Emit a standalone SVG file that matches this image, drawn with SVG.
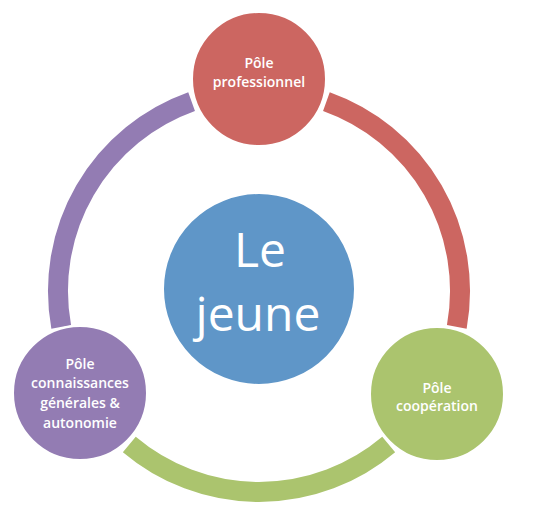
<svg xmlns="http://www.w3.org/2000/svg" width="533" height="524" viewBox="0 0 533 524">
<style>
.arc{fill:none;stroke-width:20;stroke-linecap:butt}
.node{stroke:#fff;stroke-width:2}
.lbl{font-family:"Open Sans","Liberation Sans",sans-serif;font-weight:600;font-size:14px;fill:#fff;text-anchor:middle}
.big{font-family:"Open Sans","Liberation Sans",sans-serif;font-size:48px;fill:#fff;text-anchor:middle}
</style>
<rect width="533" height="524" fill="#fff"/>
<g id="connectors">
<path class="arc" stroke="#CC6661" d="M326.4 101.7 A201 201 0 0 1 456.8 326.9"/>
<path class="arc" stroke="#ABC46E" d="M388.7 444.5 A201 201 0 0 1 129.3 444.5"/>
<path class="arc" stroke="#937CB3" d="M61.2 326.9 A201 201 0 0 1 191.6 101.7"/>
</g>
<g id="center">
<circle class="node" cx="259" cy="289" r="96" fill="#5F96C8"/>
<text class="big" x="260" y="267">Le</text>
<text class="big" x="258" y="331">jeune</text>
</g>
<g id="pro">
<circle class="node" cx="259" cy="79" r="67" fill="#CC6661"/>
<text class="lbl" x="259" y="68">Pôle</text>
<text class="lbl" x="259" y="87">professionnel</text>
</g>
<g id="coop">
<circle class="node" cx="437" cy="394" r="67" fill="#ABC46E"/>
<text class="lbl" x="437" y="393">Pôle</text>
<text class="lbl" x="437" y="411">coopération</text>
</g>
<g id="conn">
<circle class="node" cx="80" cy="393" r="67" fill="#937CB3"/>
<text class="lbl" x="80" y="369">Pôle</text>
<text class="lbl" x="80" y="388">connaissances</text>
<text class="lbl" x="80" y="408">générales &amp;</text>
<text class="lbl" x="80" y="428">autonomie</text>
</g>
</svg>
